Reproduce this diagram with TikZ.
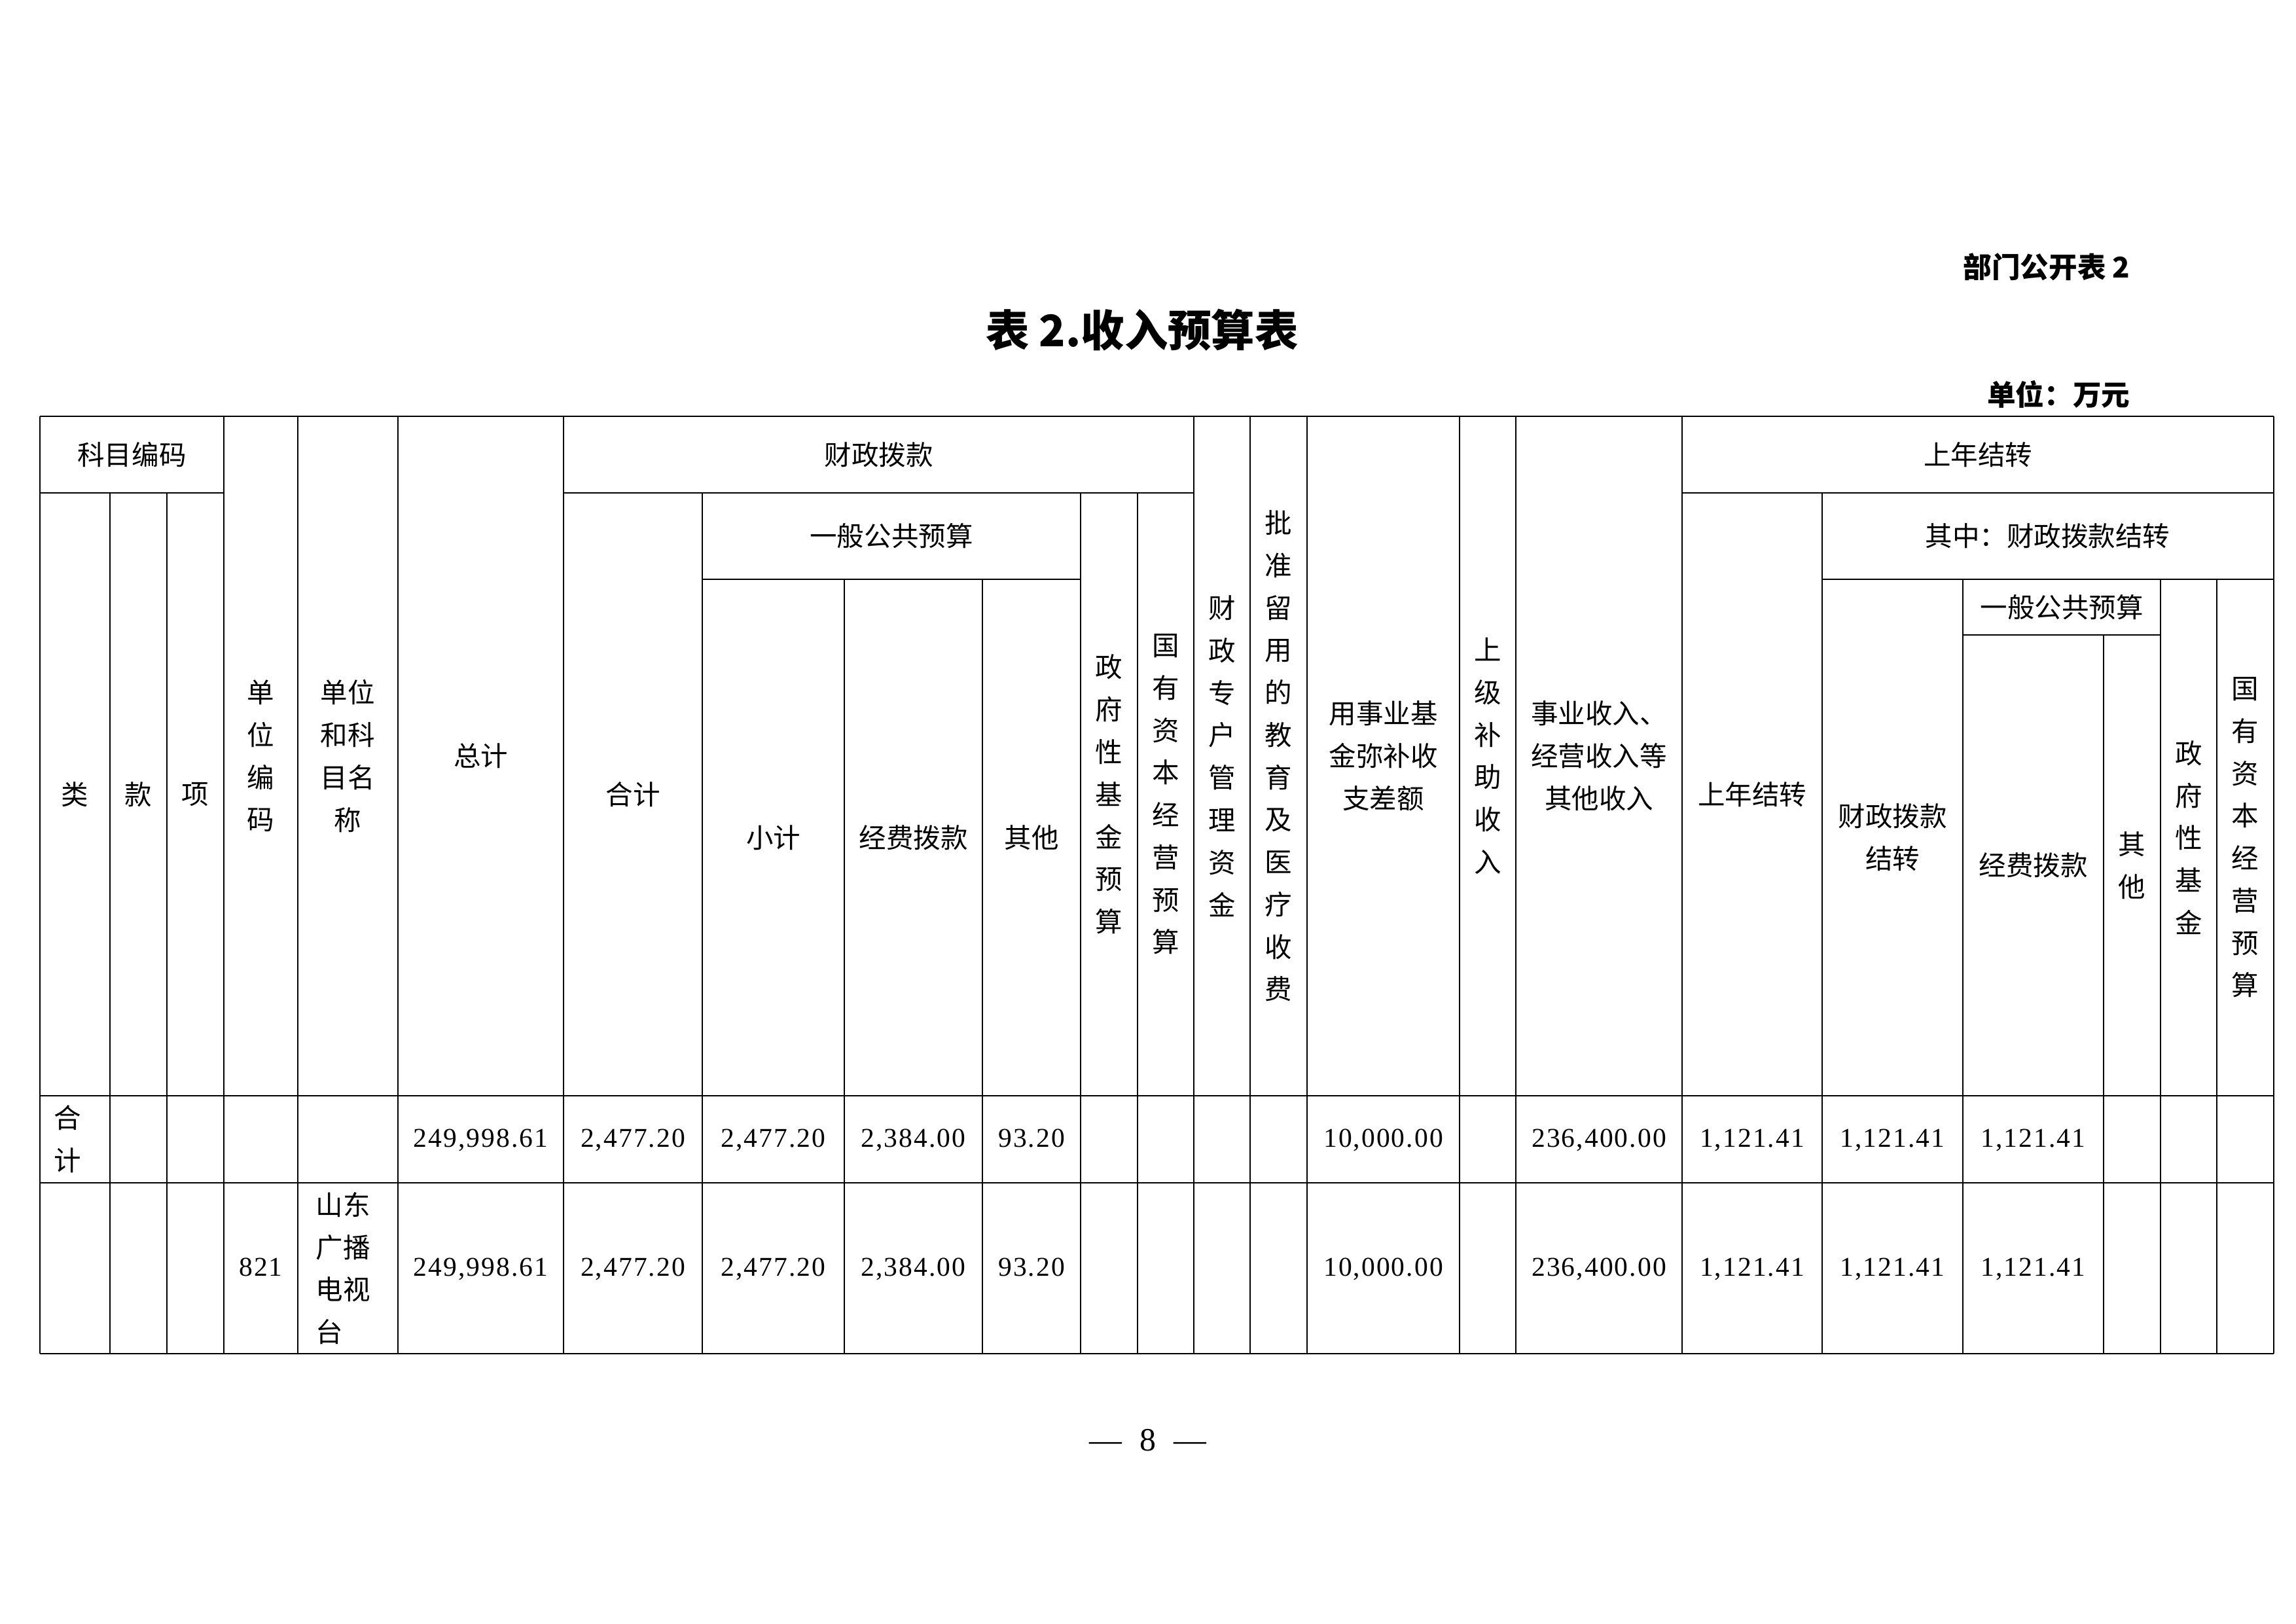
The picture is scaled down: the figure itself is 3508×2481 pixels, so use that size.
\documentclass[tikz,border=0pt]{standalone}
\usepackage{fontspec}
\setmainfont{Noto Sans CJK SC}
\newfontfamily\numfont[LetterSpace=5]{Liberation Serif}
\newfontfamily\pagefont{Liberation Serif}
\newcommand{\cellfont}{\fontsize{10pt}{15.6pt}\selectfont}
\newcommand{\numcell}{\numfont\fontsize{10pt}{15.6pt}\selectfont}

\begin{document}
\begin{tikzpicture}[x=0.0846667mm, y=-0.0846667mm,
        grid/.style={line width=0.5pt},
        cell/.style={align=center, inner sep=0pt, font=\cellfont},
        num/.style={inner sep=0pt, text height=0.7em, text depth=0.1em, font=\numcell},
        head/.style={inner sep=0pt, font=\fontsize{10.5pt}{14pt}\selectfont\bfseries}]
    \useasboundingbox (0,0) rectangle (3508,2481);
    % page texts
    \node[head, anchor=east] (bmgk) at (3255,408) {部门公开表 2};
    \node[inner sep=0pt, font=\fontsize{16pt}{20pt}\selectfont\bfseries] (title) at (1745,504) {表 2.收入预算表};
    \node[head, anchor=east] (danwei) at (3255,603) {单位：万元};
    \node[inner sep=0pt, font=\pagefont\fontsize{12pt}{14pt}\selectfont] (page) at (1754,2200) {—\hspace{0.55em}8\hspace{0.55em}—};
    % horizontal rules
    \foreach \y/\xa/\xb in {636/61/3474, 753/61/342, 753/861/1824, 753/2570/3474,
            885/1073/1651, 885/2784/3474, 970/2999/3301,
            1674/61/3474, 1807/61/3474, 2068/61/3474}
        \draw[grid] (\xa,\y) -- (\xb,\y);
    % vertical rules
    \foreach \x/\ya in {61/636, 168/753, 255/753, 342/636, 455/636, 608/636, 861/636,
            1073/753, 1290/885, 1501/885, 1651/753, 1738/753, 1824/636, 1910/636,
            1997/636, 2230/636, 2316/636, 2570/636, 2784/753, 2999/885, 3214/970,
            3301/885, 3387/885, 3474/636}
        \draw[grid] (\x,\ya) -- (\x,2068);
    % header cells
    \node[cell] (kmbm) at (201.5,694.5) {科目编码};
    \node[cell] (lei) at (114.5,1213.5) {类};
    \node[cell] (kuan) at (211.5,1213.5) {款};
    \node[cell] (xiang) at (298.5,1213.5) {项};
    \node[cell] (dwbm) at (398.5,1155) {单\\位\\编\\码};
    \node[cell] (dwmc) at (531.5,1155) {单位\\和科\\目名\\称};
    \node[cell] (zongji) at (734.5,1155) {总计};
    \node[cell] (czbk) at (1342.5,694.5) {财政拨款};
    \node[cell] (heji) at (967,1213.5) {合计};
    \node[cell] (ybgg) at (1362,819) {一般公共预算};
    \node[cell] (xiaoji) at (1181.5,1279.5) {小计};
    \node[cell] (jfbk) at (1395.5,1279.5) {经费拨款};
    \node[cell] (qita) at (1576,1279.5) {其他};
    \node[cell] (zfxjj) at (1694.5,1213.5) {政\\府\\性\\基\\金\\预\\算};
    \node[cell] (gyzb) at (1781,1213.5) {国\\有\\资\\本\\经\\营\\预\\算};
    \node[cell] (czzh) at (1867,1155) {财\\政\\专\\户\\管\\理\\资\\金};
    \node[cell] (pzly) at (1953.5,1155) {批\\准\\留\\用\\的\\教\\育\\及\\医\\疗\\收\\费};
    \node[cell] (ysyjj) at (2113.5,1155) {用事业基\\金弥补收\\支差额};
    \node[cell] (sjbz) at (2273,1155) {上\\级\\补\\助\\收\\入};
    \node[cell] (sysr) at (2443,1155) {事业收入、\\经营收入等\\其他收入};
    \node[cell] (snjz) at (3022,694.5) {上年结转};
    \node[cell] (snjzsub) at (2677,1213.5) {上年结转};
    \node[cell] (qizhong) at (3128.5,819) {其中：财政拨款结转};
    \node[cell] (czbkjz) at (2891.5,1279.5) {财政拨款\\结转};
    \node[cell] (ybggjz) at (3150,927.5) {一般公共预算};
    \node[cell] (jfbkjz) at (3106.5,1322) {经费拨款};
    \node[cell] (qitajz) at (3257.5,1322) {其\\他};
    \node[cell] (zfxjz) at (3344,1279.5) {政\\府\\性\\基\\金};
    \node[cell] (gyzbjz) at (3430.5,1279.5) {国\\有\\资\\本\\经\\营\\预\\算};
    % data rows
    \node[cell, anchor=west, align=left] (hjlbl) at (82,1740.5) {合\\计};
    \node[num] (bm) at (398.5,1937.5) {821};
    \node[cell, anchor=west, align=left] (mc) at (482,1937.5) {山东\\广播\\电视\\台};
    \foreach \y/\r in {1740.5/a, 1937.5/b} {
        \node[num] (zj\r) at (734.5,\y) {249,998.61};
        \node[num] (hj\r) at (967,\y) {2,477.20};
        \node[num] (xj\r) at (1181.5,\y) {2,477.20};
        \node[num] (jf\r) at (1395.5,\y) {2,384.00};
        \node[num] (qt\r) at (1576,\y) {93.20};
        \node[num] (yj\r) at (2113.5,\y) {10,000.00};
        \node[num] (sy\r) at (2443,\y) {236,400.00};
        \node[num] (sn\r) at (2677,\y) {1,121.41};
        \node[num] (cz\r) at (2891.5,\y) {1,121.41};
        \node[num] (jz\r) at (3106.5,\y) {1,121.41};
    }
\end{tikzpicture}
\end{document}
